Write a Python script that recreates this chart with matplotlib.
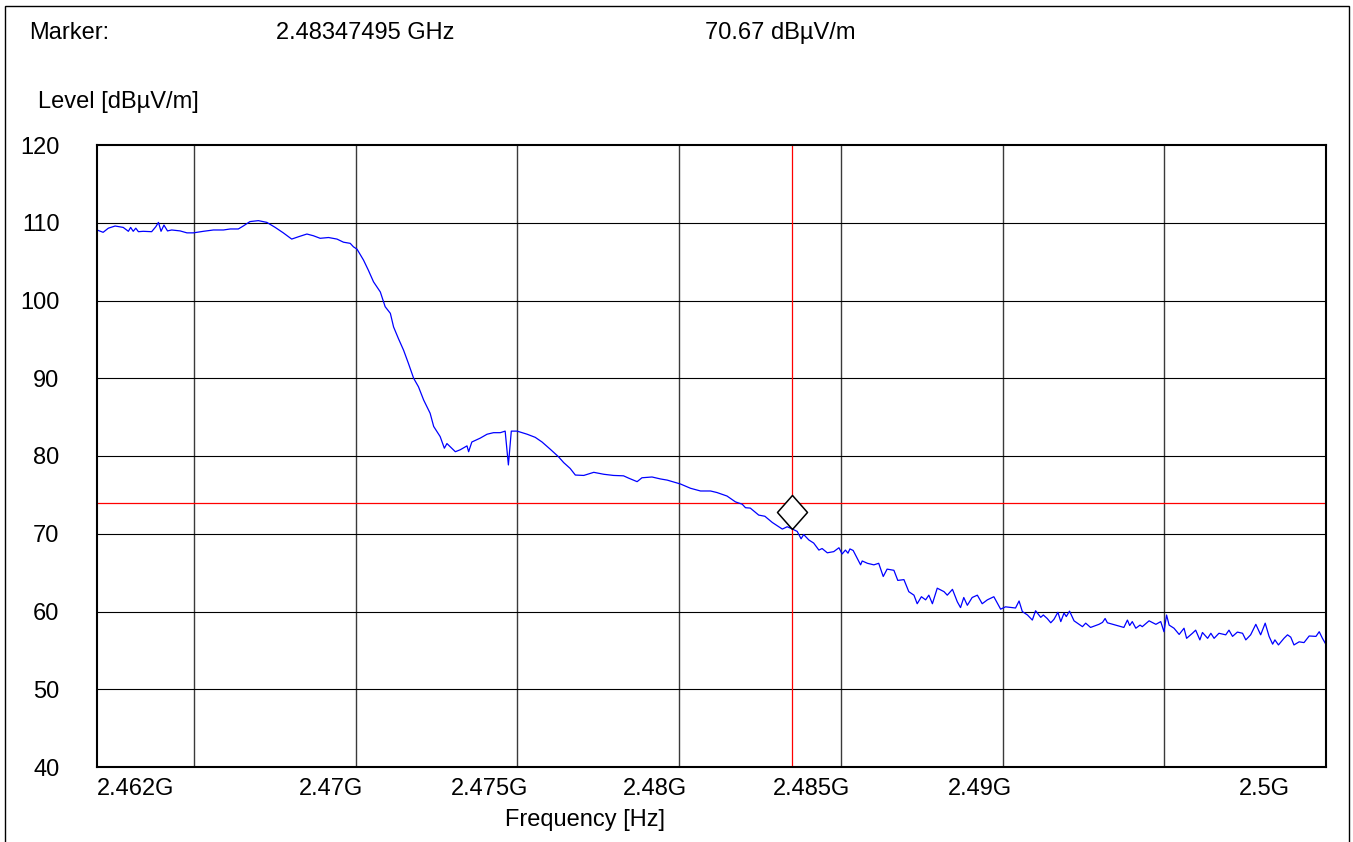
import matplotlib.pyplot as plt
from matplotlib.patches import Rectangle

plt.rcParams['font.family'] = ['Liberation Sans', 'DejaVu Sans']

# Trace: frequency in MHz, level in dBuV/m
freq_mhz = [
    2462.00, 2462.19, 2462.35, 2462.56, 2462.81, 2462.97, 2463.04, 2463.12, 2463.20, 2463.28,
    2463.43, 2463.69, 2463.82, 2463.90, 2463.98, 2464.07, 2464.18, 2464.31, 2464.57, 2464.78,
    2464.98, 2465.29, 2465.60, 2465.91, 2466.12, 2466.37, 2466.53, 2466.73, 2466.99, 2467.25,
    2467.51, 2467.76, 2468.02, 2468.23, 2468.49, 2468.69, 2468.90, 2469.16, 2469.42, 2469.62,
    2469.83, 2469.93, 2470.04, 2470.24, 2470.39, 2470.55, 2470.76, 2470.91, 2471.07, 2471.17,
    2471.32, 2471.48, 2471.63, 2471.79, 2471.94, 2472.10, 2472.30, 2472.41, 2472.61, 2472.74,
    2472.82, 2473.08, 2473.23, 2473.44, 2473.49, 2473.59, 2473.75, 2473.85, 2474.06, 2474.26,
    2474.47, 2474.62, 2474.72, 2474.81, 2474.99, 2475.30, 2475.55, 2475.76, 2476.02, 2476.27,
    2476.43, 2476.63, 2476.79, 2477.05, 2477.36, 2477.67, 2477.97, 2478.28, 2478.44, 2478.70,
    2478.85, 2479.16, 2479.42, 2479.63, 2480.04, 2480.35, 2480.66, 2480.97, 2481.17, 2481.48,
    2481.74, 2481.95, 2482.05, 2482.20, 2482.46, 2482.65, 2482.88, 2483.08, 2483.19, 2483.34,
    2483.47, 2483.65, 2483.77, 2483.85, 2484.01, 2484.16, 2484.32, 2484.42, 2484.58, 2484.78,
    2484.94, 2485.04, 2485.14, 2485.22, 2485.28, 2485.38, 2485.61, 2485.66, 2485.82, 2486.02,
    2486.17, 2486.31, 2486.43, 2486.64, 2486.76, 2486.95, 2487.10, 2487.26, 2487.36, 2487.49,
    2487.62, 2487.72, 2487.83, 2487.98, 2488.19, 2488.29, 2488.45, 2488.60, 2488.70, 2488.80,
    2488.91, 2489.06, 2489.22, 2489.37, 2489.53, 2489.73, 2489.94, 2490.09, 2490.40, 2490.51,
    2490.61, 2490.77, 2490.92, 2491.02, 2491.18, 2491.26, 2491.38, 2491.49, 2491.59, 2491.71,
    2491.80, 2491.90, 2491.97, 2492.07, 2492.21, 2492.47, 2492.57, 2492.72, 2492.98, 2493.09,
    2493.17, 2493.24, 2493.50, 2493.75, 2493.86, 2493.93, 2494.01, 2494.12, 2494.25, 2494.32,
    2494.53, 2494.74, 2494.89, 2494.99, 2495.07, 2495.15, 2495.30, 2495.46, 2495.61, 2495.69,
    2495.87, 2495.97, 2496.10, 2496.18, 2496.34, 2496.44, 2496.54, 2496.69, 2496.90, 2497.00,
    2497.11, 2497.26, 2497.42, 2497.52, 2497.67, 2497.83, 2497.98, 2498.12, 2498.24, 2498.35,
    2498.42, 2498.53, 2498.70, 2498.81, 2498.91, 2499.01, 2499.17, 2499.32, 2499.48, 2499.69,
    2499.79, 2499.89, 2500.00,
]
level = [
    109.07, 108.77, 109.30, 109.58, 109.40, 108.90, 109.40, 108.90, 109.30, 108.85,
    108.90, 108.85, 109.50, 110.05, 108.90, 109.70, 108.95, 109.07, 108.95, 108.70,
    108.70, 108.90, 109.07, 109.07, 109.20, 109.20, 109.60, 110.15, 110.27, 110.05,
    109.40, 108.70, 107.90, 108.20, 108.55, 108.33, 108.00, 108.10, 107.90, 107.50,
    107.35, 106.90, 106.60, 105.20, 103.90, 102.40, 101.10, 99.20, 98.35, 96.60,
    95.10, 93.60, 91.90, 90.00, 88.90, 87.20, 85.50, 83.80, 82.50, 81.00,
    81.60, 80.55, 80.80, 81.30, 80.55, 81.80, 82.10, 82.30, 82.80, 83.00,
    83.00, 83.20, 78.85, 83.20, 83.20, 82.80, 82.40, 81.80, 80.85, 79.90,
    79.15, 78.40, 77.55, 77.50, 77.90, 77.65, 77.50, 77.45, 77.15, 76.70,
    77.20, 77.30, 77.05, 76.90, 76.40, 75.85, 75.50, 75.50, 75.30, 74.85,
    74.10, 73.80, 73.35, 73.30, 72.40, 72.25, 71.45, 70.90, 70.60, 70.90,
    70.67, 70.30, 69.35, 69.90, 69.20, 68.80, 67.90, 68.10, 67.55, 67.70,
    68.20, 67.40, 67.90, 67.50, 68.05, 67.85, 66.00, 66.50, 66.20, 66.00,
    66.20, 64.50, 65.45, 65.30, 64.00, 64.10, 62.55, 62.10, 61.00, 61.90,
    61.50, 62.10, 61.00, 63.00, 62.55, 62.10, 62.85, 61.25, 60.50, 61.80,
    60.80, 61.80, 62.10, 61.00, 61.50, 61.90, 60.30, 60.60, 60.45, 61.35,
    60.00, 59.55, 58.90, 60.10, 59.25, 59.55, 59.10, 58.55, 59.00, 59.90,
    58.70, 59.80, 59.35, 60.05, 58.80, 58.05, 58.50, 57.95, 58.35, 58.60,
    59.10, 58.55, 58.25, 57.95, 58.90, 58.20, 58.70, 57.85, 58.25, 58.05,
    58.80, 58.35, 58.70, 57.40, 59.55, 58.25, 57.85, 57.05, 57.85, 56.55,
    57.20, 57.60, 56.35, 57.30, 56.55, 57.20, 56.55, 57.20, 57.00, 57.60,
    56.80, 57.35, 57.20, 56.35, 57.00, 58.35, 57.00, 58.50, 56.80, 55.80,
    56.35, 55.70, 56.55, 57.00, 56.70, 55.70, 56.10, 56.00, 56.85, 56.80,
    57.40, 56.55, 55.75,
]

limit_level = 74.0
marker_freq = 2483.47495
marker_level = 70.67

x_min, x_max = 2462.0, 2500.0
y_ticks = [40, 50, 60, 70, 80, 90, 100, 110, 120]
x_grid = [2465, 2470, 2475, 2480, 2485, 2490, 2495]
x_labels = ['2.462G', '2.47G', '2.475G', '2.48G', '2.485G', '2.49G', '2.5G']
x_label_pos = [2463.20, 2469.24, 2474.13, 2479.26, 2484.09, 2489.29, 2498.08]

W, H = 1353, 842
fig = plt.figure(figsize=(W / 100, H / 100), dpi=100)
fs = 17

# outer frame, open at the bottom edge
fig.patches.append(Rectangle((5 / W, -0.05), (1349 - 5) / W, 1.05 - 6 / H,
                             transform=fig.transFigure, fill=False,
                             edgecolor='black', linewidth=1.0))

ax = fig.add_axes([97 / W, (H - 767) / H, (1326 - 97) / W, (767 - 145) / H])
ax.set_xlim(x_min, x_max)
ax.set_ylim(40, 120)

for g in x_grid:
    ax.axvline(g, color='#3a3a3a', linewidth=1.0, zorder=1)
for t in y_ticks[1:-1]:
    ax.axhline(t, color='black', linewidth=0.8, zorder=1)

ax.plot(freq_mhz, level, color='#0000ff', linewidth=0.9, zorder=3)

ax.axhline(limit_level, color='#ff0000', linewidth=0.9, zorder=2)
ax.axvline(marker_freq, color='#ff0000', linewidth=0.9, zorder=2)

# diamond sitting on top of the marker point
diamond = [(0, 0), (-15, 17), (0, 34), (15, 17), (0, 0)]
ax.plot([marker_freq], [marker_level], marker=diamond, markersize=49,
        markerfacecolor='white', markeredgecolor='black',
        markeredgewidth=1.1, linestyle='none', zorder=4, clip_on=False)

for s in ax.spines.values():
    s.set_linewidth(1.5)
    s.set_color('black')
    s.set_zorder(5)

ax.set_yticks(y_ticks)
ax.set_yticklabels([str(t) for t in y_ticks])
ax.set_xticks(x_label_pos)
ax.set_xticklabels(x_labels)
ax.tick_params(axis='y', length=0, pad=27, labelsize=fs)
ax.tick_params(axis='x', length=0, pad=8, labelsize=fs)

fig.text(29 / W, 1 - 33 / H, 'Marker:', fontsize=fs, va='center', ha='left')
fig.text(276 / W, 1 - 33 / H, '2.48347495 GHz', fontsize=fs, va='center', ha='left')
fig.text(705 / W, 1 - 33 / H, '70.67 dBµV/m', fontsize=fs, va='center', ha='left')
fig.text(38 / W, 1 - 102 / H, 'Level [dBµV/m]', fontsize=fs, va='center', ha='left')
fig.text(585 / W, 1 - 820 / H, 'Frequency [Hz]', fontsize=fs, va='center', ha='center')

fig.savefig('out.png', dpi=100)
